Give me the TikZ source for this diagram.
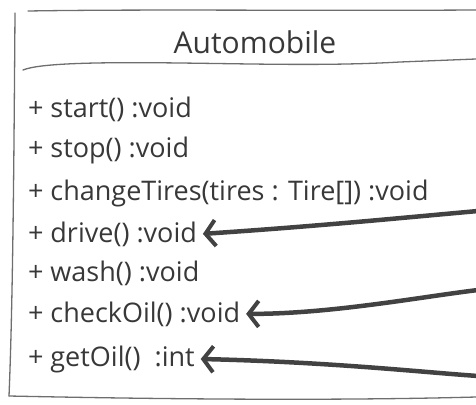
\documentclass[tikz,border=0pt]{standalone}
\usepackage{fontspec}
\setmainfont{Open Sans}
\usetikzlibrary{arrows.meta}
\definecolor{pencil}{HTML}{383838}
\definecolor{edge}{HTML}{6E6E6E}
\tikzset{
  method/.style={anchor=base west, inner sep=0pt, outer sep=6pt, text=pencil, font=\fontsize{27}{30}\selectfont},
  boxline/.style={draw=edge, line width=1.3pt, line cap=round},
  pointer/.style={draw=pencil!95, line width=4.5pt, line cap=round, -{Straight Barb[length=10pt,width=26pt,line width=4pt]}}
}
\begin{document}
\begin{tikzpicture}[x=1pt,y=-1pt]
\useasboundingbox (0,0) rectangle (476,404);

% Outline of the class box (right side is off the page)
\draw[boxline] (28,11) .. controls (150,9) and (300,11) .. (476,10);
\draw[boxline] (15,13) .. controls (14,150) and (13,300) .. (9,396);
\draw[boxline] (9,396) .. controls (150,399) and (330,401) .. (476,397);

% Class name and the line under it
\node [text=pencil, font=\fontsize{30}{34}\selectfont, anchor=base] (title) at (255,53) {Automobile};
\draw[boxline] (23,70) .. controls (40,63) and (100,62) .. (180,63) .. controls (260,64) and (330,66) .. (400,62) -- (476,59);

% Operations
\node [method] (start) at (22,117) {+ start() :void};
\node [method] (stop) at (22,157) {+ stop() :void};
\node [method] (tires) at (22,200) {+ changeTires(tires : Tire[]) :void};
\node [method] (drive) at (22,242) {+ drive() :void};
\node [method] (wash) at (22,281) {+ wash() :void};
\node [method] (checkOil) at (22,322) {+ checkOil() :void};
\node [method] (getOil) at (22,366) {+ getOil() \ :int};

% Loose ends of the pointers at the right edge
\coordinate (driveR) at (478,211);
\coordinate (checkR) at (478,290);
\coordinate (getR) at (478,376);

% Pointers from the right edge to three of the operations
\draw[pointer] (driveR) .. controls (400,218) and (320,226) .. (drive.east);
\draw[pointer] (checkR) .. controls (420,297) and (330,314) .. (checkOil.east);
\draw[pointer] (getR) .. controls (420,372) and (330,362) .. (getOil.east);

\end{tikzpicture}
\end{document}
